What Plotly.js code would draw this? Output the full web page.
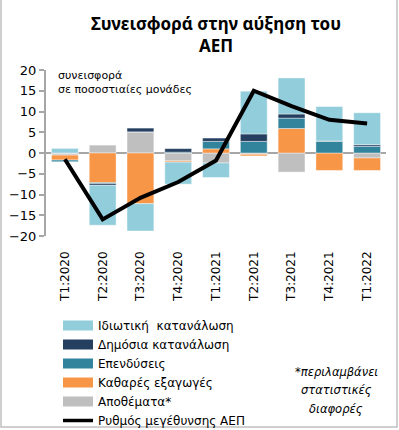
<!DOCTYPE html>
<html>
<head>
<meta charset="utf-8">
<script src="https://cdn.plot.ly/plotly-3.0.1.min.js"></script>
<style>html,body{margin:0;padding:0;background:#fff;}#chart{width:399px;height:430px;}</style>
</head>
<body>
<div id="chart"></div>
<script>
// ---- data ----
const categories = ['T1:2020','T2:2020','T3:2020','T4:2020','T1:2021','T2:2021','T3:2021','T4:2021','T1:2022'];
const privateConsumption = [1.1, -9.6, -6.6, -5.3, -3.5, 10.3, 8.7, 8.3, 7.7];
const governmentConsumption = [0, -0.4, 0.9, 0.85, 0.8, 1.8, 1.0, 0.1, 0.4];
const investment = [-0.4, -0.25, 0, 0.2, 1.8, 2.8, 2.5, 2.8, 1.6];
const netExports = [-1.2, -7.15, -12.2, -0.3, 1.0, -0.4, 5.9, -4.2, -3.0];
const inventories = [-0.5, 1.9, 5.1, -1.9, -2.4, -0.3, -4.6, 0, -1.2];
const gdpGrowth = [-1.5, -16.0, -10.8, -7.0, -1.8, 15.0, 11.3, 8.0, 7.1];

const names = {
  priv: 'Ιδιωτική  κατανάλωση',
  gov: 'Δημόσια κατανάλωση',
  inv: 'Επενδύσεις',
  nx: 'Καθαρές εξαγωγές',
  stock: 'Αποθέματα*',
  gdp: 'Ρυθμός μεγέθυνσης ΑΕΠ'
};
const colors = {
  priv: '#92CDDC',
  gov: '#243F60',
  inv: '#31849B',
  nx: '#F79646',
  stock: '#BFBFBF',
  gdp: '#000000'
};

function bar(y, key) {
  return {
    type: 'bar', x: categories, y: y, name: names[key],
    marker: {color: colors[key], line: {color: 'rgba(255,255,255,0.7)', width: 0.6}},
    showlegend: false, legendgroup: key, hoverinfo: 'x+y+name'
  };
}
function proxy(key, w) {
  return {
    type: 'scatter', mode: 'lines', x: [null], y: [null], name: names[key],
    line: {color: colors[key], width: w}, legendgroup: key, showlegend: true, hoverinfo: 'skip'
  };
}

// stacking order from zero outward: inventories, net exports, investment, government, private
const traces = [
  bar(inventories, 'stock'),
  bar(netExports, 'nx'),
  bar(investment, 'inv'),
  bar(governmentConsumption, 'gov'),
  bar(privateConsumption, 'priv'),
  {
    type: 'scatter', mode: 'lines', x: categories, y: gdpGrowth, name: names.gdp,
    line: {color: colors.gdp, width: 4}, showlegend: false, legendgroup: 'gdp'
  },
  proxy('priv', 10), proxy('gov', 10), proxy('inv', 10), proxy('nx', 10), proxy('stock', 10), proxy('gdp', 3.5)
];

// pixel helpers for paper positions
const L = 46, W = 340, T = 70, H = 166;
const px = v => (v - L) / W;
const py = v => (T + H - v) / H;

const layout = {
  width: 399, height: 430,
  margin: {l: L, r: 399 - L - W, t: T, b: 430 - T - H, pad: 0, autoexpand: false},
  paper_bgcolor: '#ffffff', plot_bgcolor: '#ffffff',
  barmode: 'relative', bargap: 0.29,
  font: {family: 'DejaVu Sans', color: '#000000'},
  title: {
    text: 'Συνεισφορά στην αύξηση του<br>ΑΕΠ',
    font: {family: 'Noto Sans', size: 17, weight: 'bold', color: '#000000'},
    x: 0.5, xanchor: 'center', xref: 'paper', y: 1 - 30 / 430, yanchor: 'middle'
  },
  xaxis: {
    type: 'category', range: [-0.5, 8.5], showgrid: false, zeroline: false, showline: false,
    ticks: '', tickangle: -90, tickfont: {family: 'DejaVu Sans', size: 12, color: '#000000'},
    ticklabelstandoff: 12, fixedrange: true
  },
  yaxis: {
    range: [-20, 20], tickvals: [-20, -15, -10, -5, 0, 5, 10, 15, 20],
    showgrid: false, showline: true, linecolor: '#a6a6a6', linewidth: 2,
    ticks: 'outside', ticklen: 5, tickcolor: '#a6a6a6', tickwidth: 2,
    zeroline: true, zerolinecolor: '#a6a6a6', zerolinewidth: 2.5,
    layer: 'above traces',
    tickfont: {family: 'DejaVu Sans', size: 13, color: '#000000'}, fixedrange: true
  },
  legend: {
    xref: 'container', yref: 'container',
    x: 58 / 399, xanchor: 'left', y: 1 - 311 / 430, yanchor: 'top',
    bgcolor: 'rgba(0,0,0,0)', borderwidth: 0, tracegroupgap: 0,
    font: {family: 'DejaVu Sans', size: 12, color: '#000000'}, traceorder: 'normal'
  },
  annotations: [
    {text: 'συνεισφορά', xref: 'paper', yref: 'paper', x: px(56), y: py(75), xanchor: 'left', yanchor: 'middle', showarrow: false, font: {family: 'DejaVu Sans', size: 11}},
    {text: 'σε ποσοστιαίες μονάδες', xref: 'paper', yref: 'paper', x: px(56), y: py(89), xanchor: 'left', yanchor: 'middle', showarrow: false, font: {family: 'DejaVu Sans', size: 11}},
    {text: '<i>*περιλαμβάνει</i>', xref: 'paper', yref: 'paper', x: px(336), y: py(372), xanchor: 'center', yanchor: 'middle', showarrow: false, font: {family: 'DejaVu Sans', size: 11.5}},
    {text: '<i>στατιστικές</i>', xref: 'paper', yref: 'paper', x: px(336), y: py(390), xanchor: 'center', yanchor: 'middle', showarrow: false, font: {family: 'DejaVu Sans', size: 11.5}},
    {text: '<i>διαφορές</i>', xref: 'paper', yref: 'paper', x: px(336), y: py(409), xanchor: 'center', yanchor: 'middle', showarrow: false, font: {family: 'DejaVu Sans', size: 11.5}}
  ],
  shapes: [
    {type: 'rect', xref: 'paper', yref: 'paper', x0: px(1), x1: px(397), y0: py(427), y1: py(-5), line: {color: '#c0c0c0', width: 1.5}, fillcolor: 'rgba(0,0,0,0)', layer: 'below'}
  ]
};

Plotly.newPlot('chart', traces, layout, {displayModeBar: false, staticPlot: true});
</script>
</body>
</html>
